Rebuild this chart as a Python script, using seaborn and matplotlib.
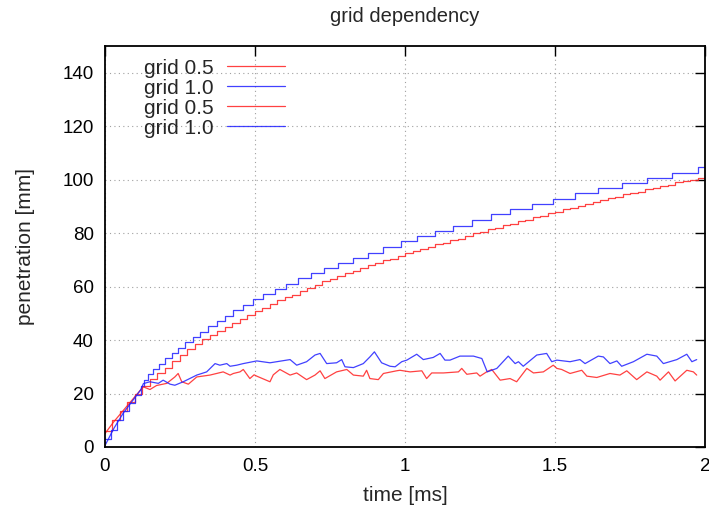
import numpy as np
import pandas as pd
import matplotlib
matplotlib.use("Agg")
import matplotlib.pyplot as plt
import seaborn as sns

# ---------------- data ----------------
# upper curve, grid 0.5 (red)
t_up_05 = [0.000, 0.025, 0.050, 0.075, 0.100, 0.125, 0.150, 0.175, 0.200, 0.225,
           0.250, 0.275, 0.300, 0.325, 0.350, 0.375, 0.400, 0.425, 0.450, 0.475,
           0.500, 0.525, 0.550, 0.575, 0.600, 0.625, 0.650, 0.675, 0.700, 0.725,
           0.750, 0.775, 0.800, 0.825, 0.850, 0.875, 0.900, 0.925, 0.950, 0.975,
           1.000, 1.025, 1.050, 1.075, 1.100, 1.125, 1.150, 1.175, 1.200, 1.225,
           1.250, 1.275, 1.300, 1.325, 1.350, 1.375, 1.400, 1.425, 1.450, 1.475,
           1.500, 1.525, 1.550, 1.575, 1.600, 1.625, 1.650, 1.675, 1.700, 1.725,
           1.750, 1.775, 1.800, 1.825, 1.850, 1.875, 1.900, 1.925, 1.950, 1.975, 2.000]
v_up_05 = [6, 10, 13.5, 17, 20, 23, 25.5, 27.5, 29.5, 32,
           34.5, 36.5, 38.5, 40.5, 42, 43.5, 45, 46.5, 48, 49.5,
           51, 52, 53.5, 55, 56, 57, 58.5, 59.5, 60.5, 62,
           63, 64, 65, 66, 67, 68, 69, 70, 70.5, 71.5,
           72.5, 73.5, 74, 75, 76, 76.5, 77.5, 78, 79, 80,
           80.5, 81.5, 82, 83, 83.5, 84.5, 85, 86, 86.5, 87.5,
           88, 89, 89.5, 90, 91, 91.5, 92.5, 93, 93.5, 94.5,
           95, 95.5, 96.5, 97, 97.5, 98, 99, 99.5, 100, 100.5, 101]

# upper curve, grid 1.0 (blue) - step start times and levels
t_up_10 = [0.000, 0.020, 0.040, 0.060, 0.080, 0.100, 0.120, 0.130, 0.142, 0.160,
           0.180, 0.200, 0.222, 0.245, 0.268, 0.292, 0.318, 0.345, 0.372, 0.400,
           0.428, 0.460, 0.492, 0.528, 0.567, 0.603, 0.644, 0.687, 0.730, 0.778,
           0.826, 0.878, 0.928, 0.987, 1.039, 1.100, 1.159, 1.222, 1.287, 1.350,
           1.422, 1.492, 1.567, 1.644, 1.722, 1.806, 1.891, 1.978, 2.000]
v_up_10 = [3.0, 6.5, 10.0, 13.5, 16.5, 19.5, 23.0, 25.2, 27.2, 29.2,
           31.2, 33.2, 35.2, 37.2, 39.2, 41.2, 43.2, 45.2, 47.2, 49.1,
           51.1, 53.1, 55.2, 57.2, 59.0, 61.0, 63.1, 65.0, 66.9, 68.9,
           70.8, 72.7, 74.7, 76.9, 78.9, 80.9, 82.7, 84.9, 87.0, 89.0,
           90.9, 92.8, 94.9, 96.8, 98.6, 100.6, 102.6, 104.6, 104.6]

# lower curve, grid 0.5 (red)
t_lo_05 = [0.000, 0.030, 0.060, 0.090, 0.120, 0.128, 0.150, 0.172, 0.206, 0.233,
           0.244, 0.256, 0.278, 0.306, 0.350, 0.394, 0.417, 0.428, 0.450, 0.461,
           0.483, 0.497, 0.506, 0.550, 0.561, 0.583, 0.617, 0.639, 0.672, 0.700,
           0.717, 0.733, 0.772, 0.806, 0.828, 0.861, 0.872, 0.883, 0.911, 0.928,
           0.972, 0.983, 1.017, 1.056, 1.072, 1.089, 1.128, 1.178, 1.189, 1.206,
           1.239, 1.250, 1.272, 1.289, 1.317, 1.350, 1.372, 1.406, 1.428, 1.461,
           1.494, 1.506, 1.522, 1.550, 1.589, 1.606, 1.639, 1.683, 1.716, 1.739,
           1.772, 1.806, 1.839, 1.850, 1.878, 1.900, 1.939, 1.961, 1.972]
v_lo_05 = [5.0, 9.5, 13.5, 17.5, 21.5, 22.5, 21.5, 23.0, 23.8, 26.2,
           27.5, 24.4, 23.5, 26.2, 26.9, 28.1, 26.9, 27.5, 28.1, 29.0,
           25.6, 27.0, 26.5, 24.4, 27.0, 29.0, 26.9, 27.7, 25.2, 26.9,
           28.5, 25.6, 28.1, 29.0, 26.9, 26.5, 28.7, 25.6, 25.2, 27.5,
           28.5, 28.7, 28.1, 28.5, 25.6, 27.7, 27.7, 28.1, 29.4, 27.2,
           27.7, 26.5, 28.1, 29.0, 25.0, 25.6, 24.4, 29.4, 27.7, 28.1,
           30.6, 29.4, 29.0, 27.5, 28.7, 26.5, 26.0, 27.5, 26.9, 28.5,
           25.2, 28.1, 26.5, 25.0, 28.1, 24.7, 28.7, 28.1, 26.9]

# lower curve, grid 1.0 (blue)
t_lo_10 = [0.000, 0.030, 0.060, 0.090, 0.120, 0.128, 0.150, 0.178, 0.194, 0.217,
           0.233, 0.261, 0.306, 0.339, 0.367, 0.383, 0.406, 0.417, 0.439, 0.461,
           0.506, 0.550, 0.617, 0.639, 0.672, 0.700, 0.717, 0.739, 0.772, 0.789,
           0.800, 0.828, 0.861, 0.883, 0.898, 0.922, 0.950, 0.967, 0.989, 1.006,
           1.039, 1.061, 1.094, 1.117, 1.133, 1.150, 1.183, 1.228, 1.256, 1.274,
           1.306, 1.344, 1.367, 1.378, 1.394, 1.439, 1.472, 1.489, 1.506, 1.550,
           1.583, 1.600, 1.644, 1.661, 1.683, 1.706, 1.722, 1.761, 1.806, 1.839,
           1.861, 1.906, 1.939, 1.956, 1.972]
v_lo_10 = [0.5, 7.0, 12.5, 17.0, 21.5, 23.7, 24.4, 23.8, 25.0, 23.5,
           23.1, 24.4, 26.9, 28.1, 31.2, 30.6, 31.2, 30.2, 30.6, 31.2,
           32.2, 31.5, 32.7, 30.6, 31.9, 34.4, 35.0, 31.2, 31.5, 32.7,
           30.0, 29.7, 31.2, 33.7, 35.6, 31.5, 30.2, 30.0, 31.9, 32.5,
           34.7, 32.7, 33.5, 35.0, 32.5, 32.5, 34.0, 34.0, 33.1, 28.1,
           29.4, 34.0, 31.2, 31.9, 30.2, 34.4, 35.0, 31.9, 32.5, 31.9,
           32.7, 31.2, 34.0, 33.7, 31.2, 32.2, 30.2, 31.9, 34.7, 34.0,
           31.2, 32.7, 34.7, 31.9, 32.7]

labels = ["grid 0.5", "grid 1.0", "grid 0.5", "grid 1.0"]
x_ticks = [0, 0.5, 1, 1.5, 2]
x_ticklabels = ["0", "0.5", "1", "1.5", "2"]
y_ticks = [0, 20, 40, 60, 80, 100, 120, 140]

# ---------------- plotting ----------------
sns.set_theme(style="white")
plt.rcParams["font.family"] = ["Liberation Sans", "DejaVu Sans"]

fig = plt.figure(figsize=(7.09, 5.12), dpi=100)
ax = fig.add_axes([0.148, 0.127, 0.8465, 0.783])

red = "#ff2020"
blue = "#2020ff"
series = [
    (t_up_05, v_up_05, red, "steps-post", labels[0]),
    (t_up_10, v_up_10, blue, "steps-post", labels[1]),
    (t_lo_05, v_lo_05, red, "default", labels[2]),
    (t_lo_10, v_lo_10, blue, "default", labels[3]),
]
for t, v, c, ds, lab in series:
    df = pd.DataFrame({"t": t, "v": v})
    sns.lineplot(data=df, x="t", y="v", ax=ax, color=c, linewidth=0.9,
                 drawstyle=ds, sort=False, estimator=None, label=lab, alpha=0.85)

ax.set_xlim(0, 2)
ax.set_ylim(0, 150)
ax.set_xticks(x_ticks)
ax.set_xticklabels(x_ticklabels)
ax.set_yticks(y_ticks)
ax.grid(True, linestyle=(0, (1, 3)), color="#a0a0a0", linewidth=0.8)
for s in ax.spines.values():
    s.set_color("black")
    s.set_linewidth(1.3)
ax.tick_params(direction="in", length=7, width=1.0, top=True, right=True,
               labelsize=13.5, pad=8, colors="black")
ax.set_xlabel("time [ms]", fontsize=15, labelpad=8)
ax.set_ylabel("penetration [mm]", fontsize=15, labelpad=20)
ax.set_title("grid dependency", fontsize=14.5, pad=17)

leg = ax.legend(loc="upper left", bbox_to_anchor=(0.045, 1.0), frameon=False,
                markerfirst=False, fontsize=15, handlelength=2.8,
                handletextpad=0.6, labelspacing=0.05, borderaxespad=0.2)
for line in leg.get_lines():
    line.set_linewidth(0.9)

fig.savefig("out.png", dpi=100)
